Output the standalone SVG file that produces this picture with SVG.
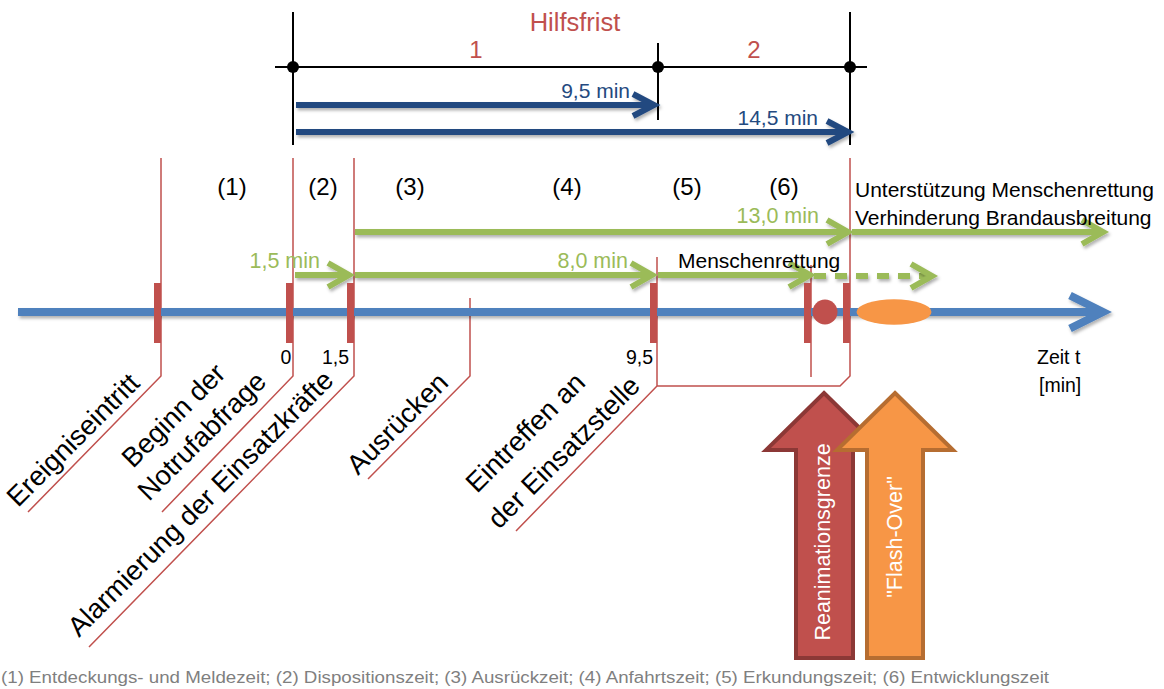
<svg xmlns="http://www.w3.org/2000/svg" width="1164" height="689" viewBox="0 0 1164 689">
<defs>
<filter id="sh" filterUnits="userSpaceOnUse" x="0" y="0" width="1164" height="689">
<feDropShadow dx="1.5" dy="2.5" stdDeviation="1.5" flood-color="#000" flood-opacity="0.3"/>
</filter>
<style>
text{font-family:"Liberation Sans",Arial,sans-serif}
.blk{stroke:#000;stroke-width:2;fill:none}
.thin{stroke:#C0504D;stroke-width:1.5;fill:none}
.tick{fill:#C0504D}
.ga{stroke:#9BBB59;stroke-width:6;fill:none;filter:url(#sh)}
.ba{stroke:#244A80;stroke-width:6;fill:none;filter:url(#sh)}
.main{stroke:#4F81BD;stroke-width:8;fill:none;filter:url(#sh)}
.red{fill:#C0504D}
.gt{fill:#9BBB59;font-size:21.5px}
.bt{fill:#244A80;font-size:21px}
.ph{font-size:24px;fill:#000;text-anchor:middle}
.lab{font-size:21px;fill:#000}
.num{font-size:19.5px;fill:#000}
.rot{font-size:27.5px;fill:#000}
.big{font-size:21.5px;fill:#fff;text-anchor:middle}
</style>
</defs>
<g id="hilfsfrist">
<text x="575" y="31" font-size="25.5" fill="#C0504D" text-anchor="middle">Hilfsfrist</text>
<text x="476" y="58" font-size="24" fill="#C0504D" text-anchor="middle">1</text>
<text x="754" y="58" font-size="24" fill="#C0504D" text-anchor="middle">2</text>
<path class="blk" d="M275,67 H867 M293,12 V145 M658,43 V120 M850,12 V145"/>
<circle cx="293" cy="67" r="6"/>
<circle cx="658" cy="67" r="6"/>
<circle cx="850" cy="67" r="6"/>
</g>
<g id="connectors">
<path class="ba" d="M296,105 H652 M633,94 L654,105 L633,116"/>
<path class="ba" d="M296,132 H846 M827,121 L848,132 L827,143"/>
<path class="thin" d="M161,158 V376 L28,512"/>
<path class="thin" d="M293,158 V376 L162,512"/>
<path class="thin" d="M354,158 V376 L89,647"/>
<path class="thin" d="M470,298 V376 L368,479"/>
<path class="thin" d="M657,257 V386 L516,531 M657,386 H840 L850,376 V158"/>
<path class="thin" d="M811,265 V377"/>
<path class="main" d="M18,312 H1100 M1070,295.5 L1103,312 L1070,328.5"/>
<path class="ga" d="M295,275 H347 M328,263 L349,275 L328,287"/>
<path class="ga" d="M355,275 H650 M631,263 L652,275 L631,287"/>
<path class="ga" d="M658,275 H808 M789,263 L810,275 L789,287"/>
<path class="ga" d="M814,276 H928" stroke-dasharray="12 9"/>
<path class="ga" d="M911,264 L932,276 L911,288"/>
<path class="ga" d="M355,232 H846 M827,220 L848,232 L827,244"/>
<path class="ga" d="M852,232 H1101 M1082,220 L1103,232 L1082,244"/>
</g>
<g id="ticks">
<rect class="tick" x="154" y="283" width="7" height="60"/>
<rect class="tick" x="286" y="283" width="7" height="60"/>
<rect class="tick" x="347" y="283" width="7" height="60"/>
<rect class="tick" x="650" y="283" width="7" height="60"/>
<rect class="tick" x="804" y="283" width="7" height="60"/>
<rect class="tick" x="843" y="283" width="7" height="60"/>
<circle class="red" cx="825" cy="312" r="12.5"/>
<ellipse cx="894" cy="312" rx="37.5" ry="12.8" fill="#F79646"/>
</g>
<g id="arrow-labels">
<text class="bt" x="630" y="98" text-anchor="end">9,5 min</text>
<text class="bt" x="818" y="125" text-anchor="end">14,5 min</text>
<text class="gt" x="320" y="268" text-anchor="end">1,5 min</text>
<text class="gt" x="628" y="268" text-anchor="end">8,0 min</text>
<text class="gt" x="819" y="223" text-anchor="end">13,0 min</text>
<text class="lab" x="678" y="268">Menschenrettung</text>
<text class="lab" x="855" y="197">Unterstützung Menschenrettung</text>
<text class="lab" x="855" y="225">Verhinderung Brandausbreitung</text>
</g>
<g id="phases">
<text class="ph" x="232" y="195">(1)</text>
<text class="ph" x="323" y="195">(2)</text>
<text class="ph" x="410" y="195">(3)</text>
<text class="ph" x="567" y="195">(4)</text>
<text class="ph" x="687" y="195">(5)</text>
<text class="ph" x="784" y="195">(6)</text>
</g>
<g id="axis-labels">
<text class="num" x="286" y="364" text-anchor="middle">0</text>
<text class="num" x="349" y="364" text-anchor="end">1,5</text>
<text class="num" x="653" y="364" text-anchor="end">9,5</text>
<text class="num" x="1037" y="364">Zeit t</text>
<text class="num" x="1039" y="392">[min]</text>
</g>
<g id="event-ereigniseintritt">
<text class="rot" transform="translate(18,508) rotate(-45)">Ereigniseintritt</text>
</g>
<g id="event-notrufabfrage">
<text class="rot" transform="translate(133,469) rotate(-45)">Beginn der</text>
<text class="rot" transform="translate(149,502) rotate(-45)">Notrufabfrage</text>
</g>
<g id="event-alarmierung">
<text class="rot" transform="translate(79,638) rotate(-45)">Alarmierung der Einsatzkräfte</text>
</g>
<g id="event-ausruecken">
<text class="rot" transform="translate(358,476) rotate(-45)">Ausrücken</text>
</g>
<g id="event-eintreffen">
<text class="rot" transform="translate(477,494) rotate(-45)">Eintreffen an</text>
<text class="rot" transform="translate(499,530) rotate(-45)">der Einsatzstelle</text>
</g>
<g id="reanimationsgrenze">
<polygon points="824,393 882,450 853,450 853,658 796,658 796,450 766,450" fill="#C0504D" stroke="#8C3836" stroke-width="4"/>
<text class="big" transform="translate(830,542) rotate(-90)">Reanimationsgrenze</text>
</g>
<g id="flashover">
<polygon points="895,393 953,450 923,450 923,658 867,658 867,450 837,450" fill="#F79646" stroke="#B66D31" stroke-width="4"/>
<text class="big" transform="translate(902,537) rotate(-90)">"Flash-Over"</text>
</g>
<g id="footer">
<text x="1" y="683" font-size="16" fill="#7F7F7F" textLength="1048" lengthAdjust="spacingAndGlyphs">(1) Entdeckungs- und Meldezeit; (2) Dispositionszeit; (3) Ausrückzeit; (4) Anfahrtszeit; (5) Erkundungszeit; (6) Entwicklungszeit</text>
</g>
</svg>
